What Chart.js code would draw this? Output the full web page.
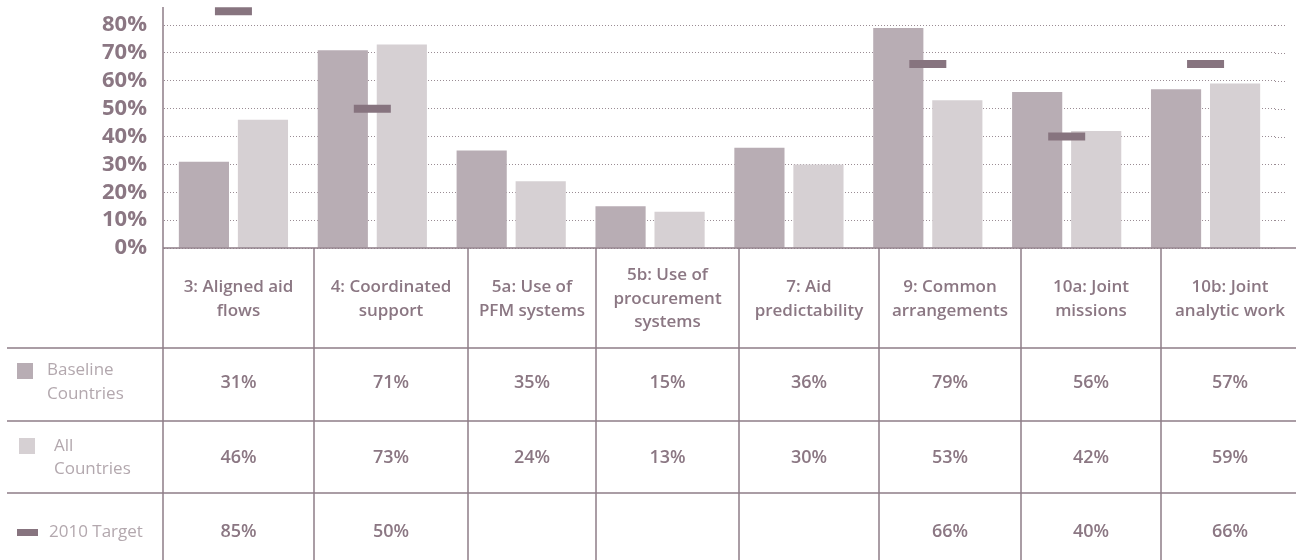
<!DOCTYPE html>
<html>
<head>
<meta charset="utf-8">
<script src="https://cdn.jsdelivr.net/npm/chart.js@4"></script>
<style>
  html, body { margin: 0; padding: 0; background: #fff; }
  #wrap { width: 1296px; height: 560px; }
</style>
</head>
<body>
<div id="wrap"><canvas id="chart" width="1296" height="560"></canvas></div>
<script>
//Chart data
var categories = [
    ['3: Aligned aid', 'flows'],
    ['4: Coordinated', 'support'],
    ['5a: Use of', 'PFM systems'],
    ['5b: Use of', 'procurement', 'systems'],
    ['7: Aid', 'predictability'],
    ['9: Common', 'arrangements'],
    ['10a: Joint', 'missions'],
    ['10b: Joint', 'analytic work']
];
var baseline = [31, 71, 35, 15, 36, 79, 56, 57];
var allCountries = [46, 73, 24, 13, 30, 53, 42, 59];
var target2010 = [85, 50, null, null, null, 66, 40, 66];
var yTicks = [0, 10, 20, 30, 40, 50, 60, 70, 80];

var seriesNames = [['Baseline', 'Countries'], ['All', 'Countries'], ['2010 Target']];

//Colors
var baseColor = '#b8adb4';
var allColor = '#d6d0d3';
var targetColor = '#87747f';
var textColor = '#8b7783';
var lightText = '#b3a8ae';
var lineColor = '#8f7e88';

//Table layout (column edges and row lines)
var colEdges = [163, 314, 468, 596, 739, 879, 1021, 1161, 1299];
var rowLines = [348, 421, 493];
var rowText = [383, 458, 532];

var tablePlugin = {
    id: 'tablePlugin',
    afterDraw: function(chart) {
        var ctx = chart.ctx;
        var area = chart.chartArea;
        var y = chart.scales.y;
        ctx.save();

        //extend the dotted grid lines a bit past the plot
        ctx.strokeStyle = '#9a8c94';
        ctx.lineWidth = 1;
        ctx.setLineDash([1, 2]);
        yTicks.forEach(function(t) {
            if (t === 0) return;
            var py = Math.round(y.getPixelForValue(t)) + 0.5;
            ctx.beginPath();
            ctx.moveTo(area.right, py);
            ctx.lineTo(1285, py);
            ctx.stroke();
        });
        ctx.setLineDash([]);

        //axis and table lines
        ctx.strokeStyle = lineColor;
        ctx.lineWidth = 1.5;
        var zeroY = y.getPixelForValue(0);
        ctx.beginPath();
        ctx.moveTo(colEdges[0], area.top);
        ctx.lineTo(colEdges[0], 560);
        ctx.moveTo(colEdges[0], zeroY);
        ctx.lineTo(1296, zeroY);
        for (var i = 1; i < colEdges.length - 1; i++) {
            ctx.moveTo(colEdges[i], zeroY);
            ctx.lineTo(colEdges[i], 560);
        }
        rowLines.forEach(function(ry) {
            ctx.moveTo(7, ry);
            ctx.lineTo(1296, ry);
        });
        ctx.stroke();

        //header labels and values
        ctx.fillStyle = textColor;
        ctx.textAlign = 'center';
        ctx.textBaseline = 'middle';
        var rows = [baseline, allCountries, target2010];
        for (var c = 0; c < categories.length; c++) {
            var cx = (colEdges[c] + colEdges[c + 1]) / 2;
            var lines = categories[c];
            var top = 299 - (lines.length - 1) * 23.5 / 2;
            ctx.font = '600 17px "Open Sans"';
            for (var l = 0; l < lines.length; l++) {
                ctx.fillText(lines[l], cx, top + l * 23.5);
            }
            ctx.font = '600 18px "Open Sans"';
            for (var r = 0; r < rows.length; r++) {
                if (rows[r][c] !== null) {
                    ctx.fillText(rows[r][c] + '%', cx, rowText[r]);
                }
            }
        }

        //series key in the first column
        ctx.fillStyle = baseColor;
        ctx.fillRect(17, 363, 16, 16);
        ctx.fillStyle = allColor;
        ctx.fillRect(19, 438, 16, 16);
        ctx.fillStyle = targetColor;
        ctx.fillRect(17, 529, 21, 7);

        ctx.fillStyle = lightText;
        ctx.textAlign = 'left';
        ctx.font = '400 17px "Open Sans"';
        ctx.fillText(seriesNames[0][0], 47, 370);
        ctx.fillText(seriesNames[0][1], 47, 394);
        ctx.fillText(seriesNames[1][0], 54, 446);
        ctx.fillText(seriesNames[1][1], 54, 469);
        ctx.fillText(seriesNames[2][0], 49, 532);
        ctx.restore();
    }
};

var ctx = document.getElementById('chart').getContext('2d');
var chart = new Chart(ctx, {
    type: 'bar',
    data: {
        labels: categories,
        datasets: [{
            label: 'Baseline Countries',
            data: baseline,
            backgroundColor: baseColor,
            categoryPercentage: 0.85,
            barPercentage: 0.85,
            order: 2
        }, {
            label: 'All Countries',
            data: allCountries,
            backgroundColor: allColor,
            categoryPercentage: 0.85,
            barPercentage: 0.85,
            order: 2
        }, {
            type: 'line',
            label: '2010 Target',
            data: target2010,
            showLine: false,
            pointStyle: 'line',
            pointRadius: 18.5,
            pointBorderWidth: 8,
            pointBorderColor: targetColor,
            pointBackgroundColor: targetColor,
            pointHoverRadius: 18.5,
            order: 1
        }]
    },
    options: {
        responsive: false,
        animation: false,
        events: [],
        layout: { autoPadding: false, padding: { top: 7, right: 21, left: 0, bottom: 0 } },
        plugins: {
            legend: { display: false },
            tooltip: { enabled: false }
        },
        scales: {
            x: {
                grid: { display: false },
                border: { display: false },
                ticks: { display: false },
                afterFit: function(scale) {
                    scale.height = 312;
                    scale.paddingLeft = 0;
                    scale.paddingRight = 0;
                }
            },
            y: {
                min: 0,
                max: 86.5,
                bounds: 'data',
                grid: { display: true, drawOnChartArea: true, color: '#9a8c94', lineWidth: 1, drawTicks: false },
                border: { display: false, dash: [1, 2] },
                ticks: {
                    stepSize: 10,
                    autoSkip: false,
                    includeBounds: false,
                    padding: 17,
                    color: textColor,
                    font: { family: 'Open Sans', size: 22, weight: 'bold' },
                    callback: function(v) { return v + '%'; }
                },
                afterFit: function(scale) {
                    scale.width = 164;
                    scale.paddingTop = 0;
                    scale.paddingBottom = 0;
                }
            }
        }
    },
    plugins: [tablePlugin]
});
</script>
</body>
</html>
